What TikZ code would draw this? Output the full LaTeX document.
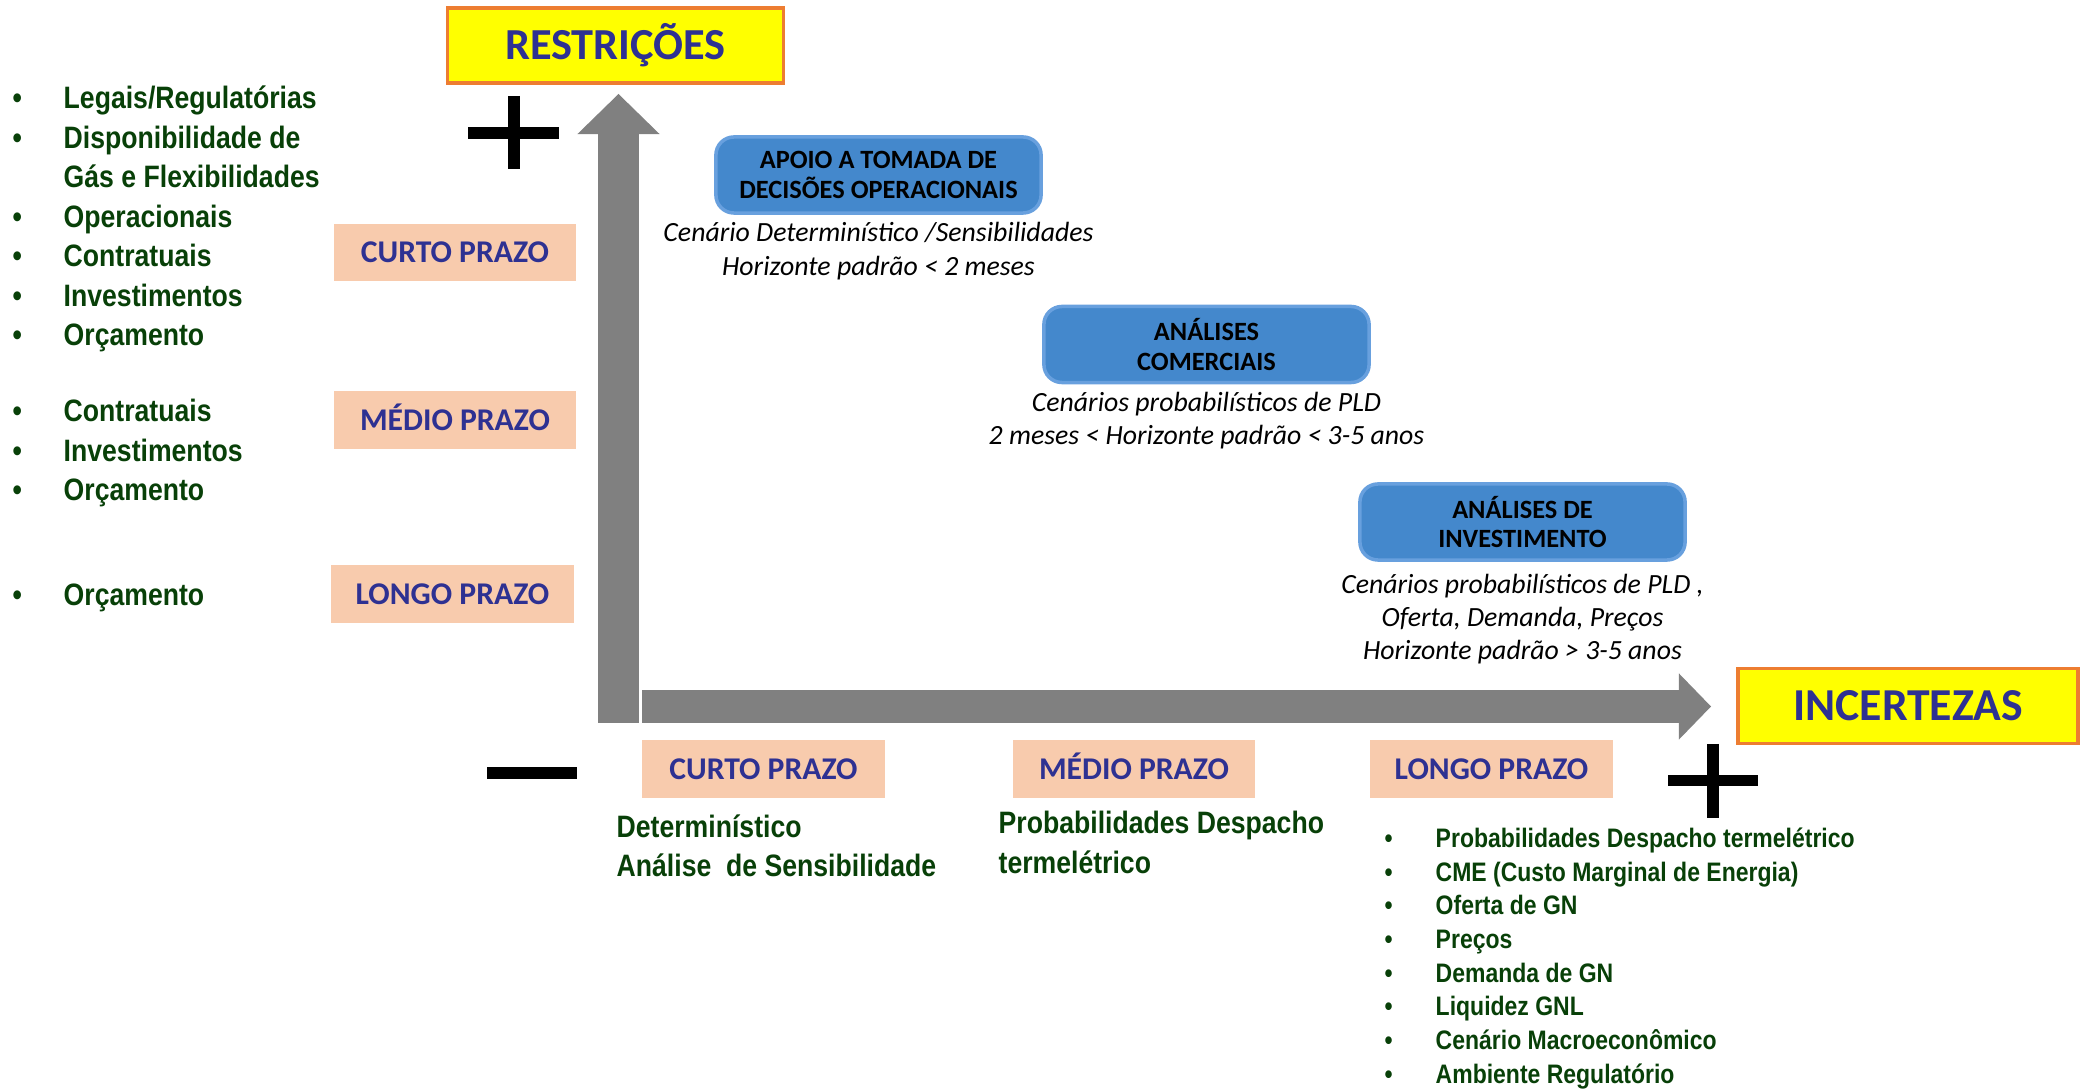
\documentclass[tikz,border=0pt]{standalone}
\usepackage{fontspec}
\setmainfont{Carlito}
\newfontfamily\narrowsans[FakeStretch=0.86]{Liberation Sans}
\usetikzlibrary{positioning}
\usetikzlibrary{arrows.meta}

\definecolor{titleyellow}{RGB}{255,255,0}
\definecolor{titleorange}{RGB}{237,125,49}
\definecolor{navy}{RGB}{46,49,146}
\definecolor{peach}{RGB}{248,203,173}
\definecolor{boxblue}{RGB}{68,136,204}
\definecolor{boxrim}{RGB}{104,160,222}
\definecolor{darkgreen}{RGB}{8,64,8}
\definecolor{axisgray}{RGB}{128,128,128}

\newcommand{\bul}{\makebox[0.51cm][l]{\textbullet}}
\newcommand{\nobul}{\hspace*{0.51cm}}

\begin{document}
\begin{tikzpicture}[x=0.01cm, y=-0.01cm]
    \tikzstyle{titlebox}=[fill=titleyellow, draw=titleorange, line width=1pt, text=navy, minimum height=0.75cm, text depth=0pt]
    \tikzstyle{prazo}=[fill=peach, text=navy, font=\bfseries\fontsize{9}{11}\selectfont, minimum width=2.42cm, minimum height=0.57cm, text height=5.8pt, text depth=0pt]
    \tikzstyle{task}=[fill=boxblue, draw=boxrim, line width=1pt, rounded corners=0.18cm, align=center, font=\bfseries\fontsize{7.5}{8.5}\selectfont, minimum width=3.25cm, minimum height=0.76cm]
    \tikzstyle{note}=[align=center, font=\itshape\fontsize{7.9}{9.5}\selectfont, node distance=0.76cm]
    \tikzstyle{item}=[text=darkgreen, align=left, anchor=north west, inner sep=0pt, font=\narrowsans\bfseries\fontsize{8.8}{11.24}\selectfont]
    \tikzstyle{axis}=[draw=axisgray]
    \tikzstyle{sign}=[line width=0.115cm]
    \useasboundingbox (0,0) rectangle (2087,1089);

    % axes
    \coordinate (yfoot) at (618.5,723);
    \coordinate (ytip)  at (618.5,94);
    \coordinate (xfoot) at (642,706.5);
    \coordinate (xtip)  at (1711,706.5);
    \draw[axis, line width=0.41cm, -{Triangle[length=0.40cm 0, width=0.82cm 0, line width=0pt]}] (yfoot) -- (ytip);
    \draw[axis, line width=0.33cm, -{Triangle[length=0.32cm 0, width=0.66cm 0, line width=0pt]}] (xfoot) -- (xtip);

    \node[titlebox, minimum width=3.36cm, text height=8.1pt, font=\bfseries\fontsize{12.6}{15}\selectfont] (restr) at (615.5,45.5) {RESTRIÇÕES};
    \node[titlebox, minimum width=3.40cm, text height=8.4pt, font=\bfseries\fontsize{13}{15}\selectfont]   (incert) at (1908,706) {INCERTEZAS};

    % plus / minus
    \draw[sign] (468,133) -- (559,133);
    \draw[sign] (514,96) -- (514,169);
    \draw[sign] (487,773) -- (577,773);
    \draw[sign] (1668,780.5) -- (1758,780.5);
    \draw[sign] (1713,744) -- (1713,818);

    % prazos
    \node[prazo] (rcurto) at (455,252.5)  {CURTO PRAZO};
    \node[prazo] (rmedio) at (455,420)    {MÉDIO PRAZO};
    \node[prazo] (rlongo) at (452.5,594)  {LONGO PRAZO};
    \node[prazo] (icurto) at (763.5,769)  {CURTO PRAZO};
    \node[prazo] (imedio) at (1134,769)   {MÉDIO PRAZO};
    \node[prazo] (ilongo) at (1491.5,769) {LONGO PRAZO};

    % analyses
    \node[task] (apoio)  at (878.5,175)  {APOIO A TOMADA DE\\DECISÕES OPERACIONAIS};
    \node[task] (comerc) at (1206.5,344.5) {ANÁLISES\\COMERCIAIS};
    \node[task] (invest) at (1522.5,522) {ANÁLISES DE\\INVESTIMENTO};
    \node[note] (apoiotxt)  [below of=apoio]  {Cenário Determinístico /Sensibilidades\\Horizonte padrão < 2 meses};
    \node[note] (comerctxt) [below of=comerc] {Cenários probabilísticos de PLD\\2 meses < Horizonte padrão < 3-5 anos};
    \node[note, node distance=0.97cm] (investtxt) [below of=invest] {Cenários probabilísticos de PLD ,\\ Oferta, Demanda, Preços\\Horizonte padrão > 3-5 anos};

    % restricoes
    \node[item] (rlist1) at (12,80.4) {\strut\bul Legais/Regulatórias\\ \bul Disponibilidade de\\ \nobul Gás e Flexibilidades\\
      \bul Operacionais\\ \bul Contratuais\\ \bul Investimentos\\ \bul Orçamento};
    \node[item] (rlist2) at (12,393.4) {\strut\bul Contratuais\\ \bul Investimentos\\ \bul Orçamento};
    \node[item] (rlist3) at (12,577.4) {\strut\bul Orçamento};

    % incertezas
    \node[item, font=\narrowsans\bfseries\fontsize{8.8}{11.1}\selectfont] (ilist1) at (616,809.7) {\strut Determinístico\\Análise\ \ de Sensibilidade};
    \node[item, font=\narrowsans\bfseries\fontsize{8.8}{11.4}\selectfont] (ilist2) at (998,805) {\strut Probabilidades Despacho\\termelétrico};
    \node[item, font=\narrowsans\bfseries\fontsize{7.6}{9.56}\selectfont] (ilist3) at (1384,823.5) {\strut\bul Probabilidades Despacho termelétrico\\
      \bul CME (Custo Marginal de Energia)\\ \bul Oferta de GN\\ \bul Preços\\ \bul Demanda de GN\\ \bul Liquidez GNL\\
      \bul Cenário Macroeconômico\\ \bul Ambiente Regulatório};
\end{tikzpicture}
\end{document}
